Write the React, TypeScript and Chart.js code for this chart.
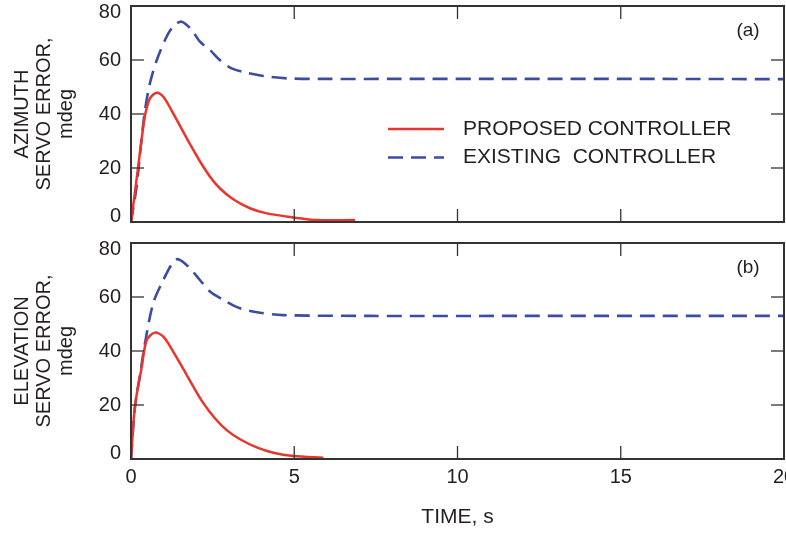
import React, { useEffect, useRef } from 'react';
import { Chart, registerables } from 'chart.js';

Chart.register(...registerables);

// ---- data ----
const xTicks = [0, 5, 10, 15, 20];
const yTicks = [0, 20, 40, 60, 80];
const seriesLabels = ['PROPOSED CONTROLLER', 'EXISTING  CONTROLLER'];
const panelTags = ['(a)', '(b)'];
const azTitle = ['AZIMUTH', 'SERVO ERROR,', 'mdeg'];
const elTitle = ['ELEVATION', 'SERVO ERROR,', 'mdeg'];
const xTitle = 'TIME, s';

const azProposedT = [0, 0.1, 0.22, 0.33, 0.43, 0.58, 0.79, 0.99, 1.25, 1.55, 1.81, 2.11, 2.42, 2.72, 3.13, 3.64, 4.16, 4.97, 5.69, 6.86];
const azProposedV = [0, 9, 20.5, 31, 39.5, 45.8, 47.9, 46.4, 41.2, 34.5, 28.8, 22.5, 16.8, 12.5, 8.4, 5.1, 3.2, 1.7, 0.7, 0.7];
const azExistingT = [0, 0.17, 0.3, 0.43, 0.58, 0.79, 1.09, 1.3, 1.55, 1.86, 2.11, 2.42, 2.72, 3.08, 3.54, 4.05, 4.77, 6, 8, 12, 16, 20];
const azExistingV = [0, 13, 28, 41.5, 51.4, 60, 68.6, 72.5, 74.2, 71.1, 66.8, 63.7, 60, 56.9, 55.3, 54.1, 53.2, 53, 53, 53, 53, 52.9];

const elProposedT = [0, 0.12, 0.33, 0.48, 0.73, 0.99, 1.3, 1.6, 1.91, 2.21, 2.57, 2.93, 3.34, 3.85, 4.36, 4.97, 5.89];
const elProposedV = [0, 19.4, 34.2, 44, 46.8, 45.3, 39.6, 33.4, 26.8, 20.8, 15.1, 10.7, 7.3, 4.3, 2.3, 1.1, 0.5];
const elExistingT = [0, 0.12, 0.3, 0.43, 0.68, 0.99, 1.3, 1.45, 1.76, 2.11, 2.42, 2.83, 3.34, 3.95, 4.66, 7.3, 12, 16, 20];
const elExistingV = [0, 19, 33, 43, 57.7, 66.3, 73.1, 74, 71.2, 66.3, 62, 58.9, 55.8, 54.2, 53.3, 53, 53, 53, 53];

// ---- styles ----
const FONT = "'Liberation Sans', Arial, Helvetica, sans-serif";
const TEXT = '#231f20';
const AXIS = '#333333';
const RED = '#e8362d';
const BLUE = '#3d4ca3';

const toPts = (t: number[], v: number[]) => t.map((x, i) => ({ x, y: v[i] }));

const framePlugin = {
  id: 'frame',
  afterDatasetsDraw(chart: any, _args: any, opts: any) {
    const { ctx, chartArea: a, scales } = chart;
    ctx.save();
    ctx.strokeStyle = AXIS;
    ctx.lineWidth = 2;
    ctx.strokeRect(a.left, a.top, a.right - a.left, a.bottom - a.top);
    ctx.lineWidth = 1.3;
    const tl = 13;
    const seg = (x1: number, y1: number, x2: number, y2: number) => {
      ctx.beginPath();
      ctx.moveTo(x1, y1);
      ctx.lineTo(x2, y2);
      ctx.stroke();
    };
    scales.x.ticks.forEach((t: any) => {
      const px = scales.x.getPixelForValue(t.value);
      if (px <= a.left + 1 || px >= a.right - 1) return;
      seg(px, a.bottom, px, a.bottom - tl);
      seg(px, a.top, px, a.top + tl);
    });
    scales.y.ticks.forEach((t: any) => {
      const py = scales.y.getPixelForValue(t.value);
      if (py <= a.top + 1 || py >= a.bottom - 1) return;
      seg(a.left, py, a.left + tl, py);
      seg(a.right, py, a.right - tl, py);
    });
    ctx.fillStyle = TEXT;
    ctx.font = `19px ${FONT}`;
    ctx.textAlign = 'center';
    ctx.textBaseline = 'middle';
    ctx.fillText(opts.tag, a.right - 36, a.top + 25);
    if (opts.legend) {
      const ds = chart.data.datasets;
      ds.forEach((d: any, i: number) => {
        const y = a.top + 123 + i * 28.5;
        ctx.strokeStyle = d.borderColor;
        ctx.lineWidth = d.borderWidth;
        ctx.setLineDash(d.borderDash || []);
        seg(a.left + 257, y, a.left + 313, y);
        ctx.setLineDash([]);
        ctx.fillStyle = TEXT;
        ctx.font = `21px ${FONT}`;
        ctx.textAlign = 'left';
        ctx.fillText(d.label, a.left + 332, y);
      });
    }
    ctx.restore();
  },
};

function makeConfig(opts: {
  proposed: { x: number; y: number }[];
  existing: { x: number; y: number }[];
  yTitle: string[];
  tag: string;
  legend: boolean;
  showX: boolean;
  xHeight: number;
  padTop: number;
}) {
  return {
    type: 'line',
    data: {
      datasets: [
        {
          label: seriesLabels[0],
          data: opts.proposed,
          borderColor: RED,
          borderWidth: 2.5,
          pointRadius: 0,
          tension: 0.3,
          fill: false,
        },
        {
          label: seriesLabels[1],
          data: opts.existing,
          borderColor: BLUE,
          borderWidth: 2.6,
          borderDash: [15, 8],
          pointRadius: 0,
          tension: 0.3,
          fill: false,
        },
      ],
    },
    options: {
      animation: false,
      responsive: false,
      layout: { padding: { left: 0, right: 2, top: opts.padTop, bottom: 0 } },
      plugins: {
        legend: { display: false },
        tooltip: { enabled: false },
        frame: { tag: opts.tag, legend: opts.legend },
      },
      scales: {
        x: {
          type: 'linear',
          min: 0,
          max: 20,
          afterBuildTicks: (s: any) => {
            s.ticks = xTicks.map((v) => ({ value: v }));
          },
          afterFit: (s: any) => {
            s.height = opts.xHeight;
            s.paddingLeft = 0;
            s.paddingRight = 0;
          },
          grid: { display: false, drawTicks: false },
          border: { display: false },
          ticks: {
            display: opts.showX,
            padding: 6,
            maxRotation: 0,
            autoSkip: false,
            color: TEXT,
            font: { family: FONT, size: 20 },
          },
          title: {
            display: opts.showX,
            text: xTitle,
            color: TEXT,
            font: { family: FONT, size: 21 },
            padding: { top: 0, bottom: 6 },
          },
        },
        y: {
          type: 'linear',
          min: 0,
          max: 80,
          afterBuildTicks: (s: any) => {
            s.ticks = yTicks.map((v) => ({ value: v }));
          },
          afterFit: (s: any) => {
            s.width = 131;
            s.paddingTop = 0;
            s.paddingBottom = 0;
          },
          grid: { display: false, drawTicks: false },
          border: { display: false },
          ticks: {
            padding: 10,
            color: TEXT,
            font: { family: FONT, size: 20, lineHeight: '12px' },
            callback: (v: number) =>
              v === yTicks[yTicks.length - 1] ? ['', String(v)] : v === yTicks[0] ? [String(v), ''] : String(v),
          },
          title: {
            display: true,
            text: opts.yTitle,
            color: TEXT,
            font: { family: FONT, size: 20, lineHeight: 1.1 },
            padding: { top: 11, bottom: 0 },
          },
        },
      },
    },
    plugins: [framePlugin],
  };
}

export default function App() {
  const topRef = useRef<HTMLCanvasElement>(null);
  const botRef = useRef<HTMLCanvasElement>(null);

  useEffect(() => {
    const c1 = new Chart(
      topRef.current as HTMLCanvasElement,
      makeConfig({
        proposed: toPts(azProposedT, azProposedV),
        existing: toPts(azExistingT, azExistingV),
        yTitle: azTitle,
        tag: panelTags[0],
        legend: true,
        showX: false,
        xHeight: 10,
        padTop: 6,
      }) as any
    );
    const c2 = new Chart(
      botRef.current as HTMLCanvasElement,
      makeConfig({
        proposed: toPts(elProposedT, elProposedV),
        existing: toPts(elExistingT, elExistingV),
        yTitle: elTitle,
        tag: panelTags[1],
        legend: false,
        showX: true,
        xHeight: 77,
        padTop: 11,
      }) as any
    );
    return () => {
      c1.destroy();
      c2.destroy();
    };
  }, []);

  return (
    <div style={{ position: 'absolute', left: 0, top: 0, width: 786, height: 536, background: '#fff' }}>
      <canvas ref={topRef} width={786} height={232} style={{ display: 'block', width: 786, height: 232 }} />
      <canvas ref={botRef} width={786} height={304} style={{ display: 'block', width: 786, height: 304 }} />
    </div>
  );
}
